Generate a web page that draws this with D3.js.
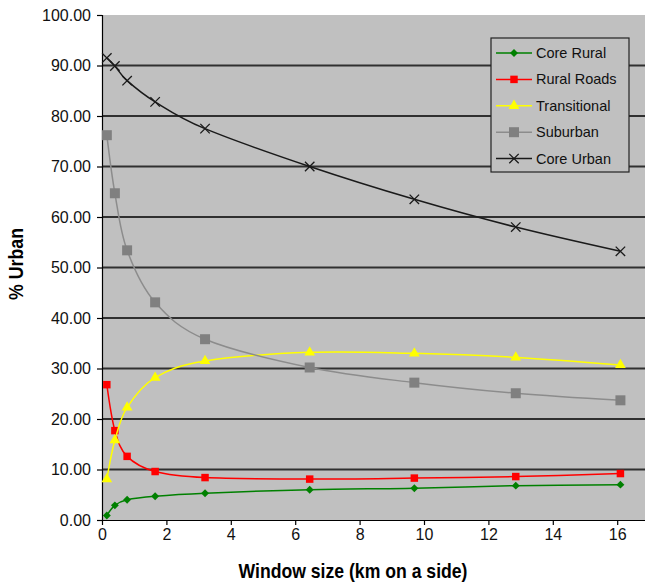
<!DOCTYPE html>
<html>
<head>
<meta charset="utf-8">
<script src="https://cdn.jsdelivr.net/npm/d3@7"></script>
<style>
body { margin: 0; background: #fff; }
svg { display: block; font-family: "Liberation Sans", Arial, sans-serif; }
</style>
</head>
<body>
<svg id="chart"></svg>
<script>
let windowKm = [0.15, 0.4, 0.78, 1.65, 3.2, 6.45, 9.7, 12.85, 16.1]

let coreRural = [0.9, 2.9, 4.0, 4.7, 5.3, 6.0, 6.3, 6.8, 7.0]
let ruralRoads = [26.8, 17.7, 12.6, 9.6, 8.4, 8.1, 8.3, 8.6, 9.2]
let transitional = [8.1, 15.8, 22.3, 28.2, 31.5, 33.2, 33.0, 32.2, 30.7]
let suburban = [76.2, 64.7, 53.4, 43.1, 35.8, 30.2, 27.2, 25.1, 23.7]
let coreUrban = [91.5, 89.9, 87.0, 82.8, 77.5, 70.0, 63.5, 58.0, 53.2]

let seriesNames = ['Core Rural', 'Rural Roads', 'Transitional', 'Suburban', 'Core Urban']
let seriesValues = [coreRural, ruralRoads, transitional, suburban, coreUrban]
let yTicks = [0, 10, 20, 30, 40, 50, 60, 70, 80, 90, 100]
let xTicks = [0, 2, 4, 6, 8, 10, 12, 14, 16]

let width = 645
let height = 585
let plotLeft = 102
let plotRight = 645
let plotTop = 15
let plotBottom = 520

// line colour, marker colour, marker shape, marker size
let styles = [
    { line: '#008000', fill: '#008000', shape: d3.symbolDiamond2, size: 40 },
    { line: '#ff0000', fill: '#ff0000', shape: d3.symbolSquare, size: 56 },
    { line: '#ffff00', fill: '#ffff00', shape: d3.symbolTriangle, size: 50 },
    { line: '#8c8c8c', fill: '#808080', shape: d3.symbolSquare, size: 100 },
    { line: '#1a1a1a', fill: 'none', shape: d3.symbolX, size: 60 }
]

let svg = d3.select('#chart').attr('width', width).attr('height', height)

let xScale = d3.scaleLinear().domain([0, (plotRight - plotLeft) / 32.2]).range([plotLeft, plotRight])
let yScale = d3.scaleLinear().domain([0, 100]).range([plotBottom, plotTop])

// plot area
svg.append('rect')
    .attr('x', plotLeft).attr('y', plotTop)
    .attr('width', plotRight - plotLeft).attr('height', plotBottom - plotTop)
    .attr('fill', '#c0c0c0')

// gridlines
svg.append('g')
    .selectAll('line')
    .data(yTicks.filter(d => d > 0 && d < 100))
    .enter()
    .append('line')
    .attr('x1', plotLeft).attr('x2', plotRight)
    .attr('y1', d => yScale(d)).attr('y2', d => yScale(d))
    .attr('stroke', '#303030')
    .attr('stroke-width', 2)

// axes
let yAxis = d3.axisLeft(yScale).tickValues(yTicks).tickFormat(d3.format('.2f')).tickSize(5).tickPadding(6)
let xAxis = d3.axisBottom(xScale).tickValues(xTicks).tickFormat(d3.format('d')).tickSize(5).tickPadding(4)

let gy = svg.append('g').attr('transform', 'translate(' + plotLeft + ',0)').call(yAxis)
let gx = svg.append('g').attr('transform', 'translate(0,' + plotBottom + ')').call(xAxis)

for (let g of [gx, gy]) {
    g.select('.domain').attr('stroke', '#000').attr('stroke-width', 1.2)
    g.selectAll('.tick line').attr('stroke', '#000').attr('stroke-width', 1.2)
    g.selectAll('text').attr('font-size', 16).attr('fill', '#111')
        .attr('font-family', '"Liberation Sans", Arial, sans-serif')
}
gx.select('.domain').attr('d', 'M' + plotLeft + ',0.5H' + plotRight)

// series
let line = d3.line()
    .x((d, i) => xScale(windowKm[i]))
    .y(d => yScale(d))
    .curve(d3.curveCardinal.tension(0))

seriesValues.forEach((values, s) => {
    let st = styles[s]
    let g = svg.append('g')
    g.append('path')
        .attr('d', line(values))
        .attr('fill', 'none')
        .attr('stroke', st.line)
        .attr('stroke-width', 1.5)
    g.selectAll('path.mark')
        .data(values)
        .enter()
        .append('path')
        .attr('class', 'mark')
        .attr('d', d3.symbol().type(st.shape).size(st.size))
        .attr('transform', (d, i) => 'translate(' + xScale(windowKm[i]) + ',' + yScale(d) + ')')
        .attr('fill', st.fill)
        .attr('stroke', st.shape === d3.symbolX ? st.line : 'none')
        .attr('stroke-width', 1.3)
})

// legend
let legend = svg.append('g').attr('transform', 'translate(491,38)')
legend.append('rect')
    .attr('width', 138).attr('height', 134)
    .attr('fill', '#c0c0c0')
    .attr('stroke', '#222').attr('stroke-width', 1.2)

seriesNames.forEach((name, s) => {
    let st = styles[s]
    let y = 15 + s * 26.4
    legend.append('line')
        .attr('x1', 5).attr('x2', 41).attr('y1', y).attr('y2', y)
        .attr('stroke', st.line).attr('stroke-width', 1.5)
    legend.append('path')
        .attr('d', d3.symbol().type(st.shape).size(st.size))
        .attr('transform', 'translate(23,' + y + ')')
        .attr('fill', st.fill)
        .attr('stroke', st.shape === d3.symbolX ? st.line : 'none')
        .attr('stroke-width', 1.3)
    legend.append('text')
        .attr('x', 45).attr('y', y + 5)
        .attr('font-size', 14.5)
        .attr('fill', '#111')
        .text(name)
})

// axis titles
svg.append('text')
    .attr('x', 353).attr('y', 578)
    .attr('text-anchor', 'middle')
    .attr('font-size', 21).attr('font-weight', 'bold')
    .attr('textLength', 229).attr('lengthAdjust', 'spacingAndGlyphs')
    .text('Window size (km on a side)')

svg.append('text')
    .attr('transform', 'translate(23,264) rotate(-90)')
    .attr('text-anchor', 'middle')
    .attr('font-size', 21).attr('font-weight', 'bold')
    .attr('textLength', 72).attr('lengthAdjust', 'spacingAndGlyphs')
    .text('% Urban')
</script>
</body>
</html>
